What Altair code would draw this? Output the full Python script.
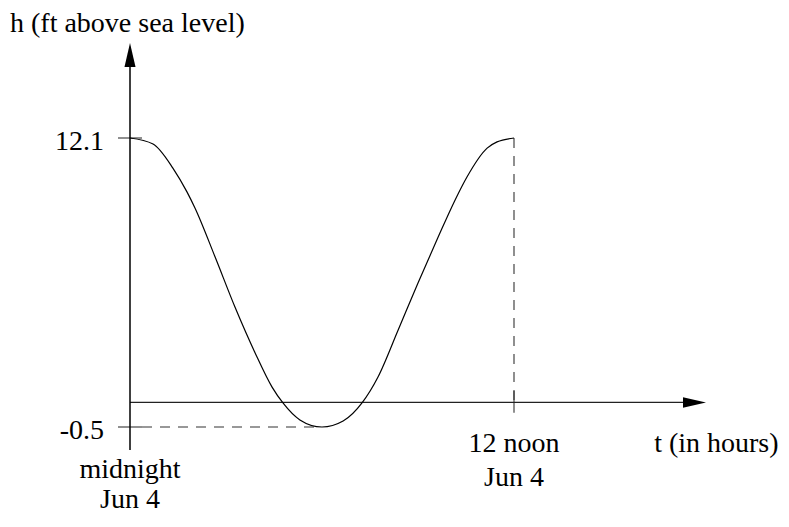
import altair as alt
import pandas as pd

# ---- data ----
t_hours = [0, 0.72, 1.34, 1.78, 2.03, 2.66, 3.28, 3.91, 4.44, 4.78, 5.31, 6.0,
           6.66, 7.25, 7.75, 8.38, 9.0, 9.63, 10.16, 10.53, 11.16, 11.47, 12.0]
h_feet = [12.1, 11.84, 10.79, 9.75, 9.05, 6.91, 4.73, 2.73, 1.24, 0.55, -0.19, -0.5,
          -0.24, 0.55, 1.68, 3.73, 5.78, 7.78, 9.40, 10.40, 11.66, 11.93, 12.1]

h_max = 12.1
h_min = -0.5
t_min_at = 6.0
t_noon = 12.0
y_tick_labels = ["12.1", "-0.5"]
y_tick_values = [12.1, -0.5]
x_label_lines = [["midnight", "Jun 4"], ["12 noon", "Jun 4"]]
x_label_values = [0.0, 12.0]
y_title = "h (ft above sea level)"
x_title = "t (in hours)"

# ---- layout (scale set-up, not data) ----
W, H = 773, 506
PX_PER_HR = 32.0
PX_PER_FT = 289.0 / 12.6
T0_PX, H0_PX = 122.0, 130.0            # svg position of t=0, h=12.1
x_dom = [-T0_PX / PX_PER_HR, (W - T0_PX) / PX_PER_HR]
y_dom = [h_max - (H - H0_PX) / PX_PER_FT, h_max + H0_PX / PX_PER_FT]
AXIS_H = 0.57          # level of the drawn t-axis
V_AX_BOTTOM, V_AX_TOP = -1.5, 15.6
H_AX_END = 17.6
TICK_HALF = 0.375

FONT = "Liberation Serif"
FS = 28

xs = alt.Scale(domain=x_dom, nice=False, zero=False)
ys = alt.Scale(domain=y_dom, nice=False, zero=False)

def X(f="t"):
    return alt.X(f"{f}:Q", scale=xs, axis=None)

def Y(f="h"):
    return alt.Y(f"{f}:Q", scale=ys, axis=None)

curve_df = pd.DataFrame({"t": t_hours, "h": h_feet})
curve = alt.Chart(curve_df).mark_line(
    interpolate="monotone", color="black", strokeWidth=1.2
).encode(x=X(), y=Y(), order="t:Q")

seg = lambda rows: pd.DataFrame(rows, columns=["t", "h", "t2", "h2"])

v_axis = alt.Chart(seg([[0, V_AX_BOTTOM, 0, V_AX_TOP]])).mark_rule(
    color="black", strokeWidth=1.5
).encode(x=X(), y=Y(), x2="t2:Q", y2="h2:Q")

h_axis = alt.Chart(seg([[0, AXIS_H, H_AX_END, AXIS_H]])).mark_rule(
    color="#222", strokeWidth=1.2
).encode(x=X(), y=Y(), x2="t2:Q", y2="h2:Q")

ticks = alt.Chart(seg(
    [[-TICK_HALF, v, TICK_HALF, v] for v in y_tick_values]
    + [[t_noon, AXIS_H - 0.45, t_noon, AXIS_H + 0.5]]
)).mark_rule(color="#333", strokeWidth=1.1).encode(x=X(), y=Y(), x2="t2:Q", y2="h2:Q")

dashed = alt.Chart(seg([
    [t_noon, h_max, t_noon, AXIS_H],
    [TICK_HALF, h_min, t_min_at, h_min],
])).mark_rule(color="#333", strokeWidth=1.1, strokeDash=[10, 8]).encode(
    x=X(), y=Y(), x2="t2:Q", y2="h2:Q")

up_arrow = alt.Chart(pd.DataFrame({"t": [0], "h": [V_AX_TOP + 0.12]})).mark_point(
    shape="M0,-1L0.46,1L-0.46,1Z", size=576, filled=True, fill="black",
    strokeWidth=0, opacity=1
).encode(x=X(), y=Y())

right_arrow = alt.Chart(pd.DataFrame({"t": [H_AX_END + 0.04], "h": [AXIS_H]})).mark_point(
    shape="M1,0L-1,0.46L-1,-0.46Z", size=529, filled=True, fill="black",
    strokeWidth=0, opacity=1
).encode(x=X(), y=Y())

ytick_text = alt.Chart(pd.DataFrame({"t": [0, 0], "h": y_tick_values, "label": y_tick_labels})).mark_text(
    font=FONT, fontSize=FS, align="right", baseline="alphabetic", dx=-26, dy=12, color="black"
).encode(x=X(), y=Y(), text="label:N")

# x labels: two lines each; midnight sits one line lower than noon
rows = []
first_row_h = [-2.72, -1.59]
line_gaps = [1.31, 1.48]
for (lines, tv, h0, gap) in zip(x_label_lines, x_label_values, first_row_h, line_gaps):
    for i, s in enumerate(lines):
        rows.append({"t": tv, "h": h0 - i * gap, "label": s})
xtick_text = alt.Chart(pd.DataFrame(rows)).mark_text(
    font=FONT, fontSize=FS, align="center", baseline="alphabetic", color="black"
).encode(x=X(), y=Y(), text="label:N")

titles = alt.Chart(pd.DataFrame({
    "t": [x_dom[0] + 2 / PX_PER_HR, 16.38],
    "h": [16.72, -1.59],
    "label": [y_title, x_title],
})).mark_text(
    font=FONT, fontSize=FS, align="left", baseline="alphabetic", color="black"
).encode(x=X(), y=Y(), text="label:N")

chart = alt.layer(
    dashed, ticks, h_axis, v_axis, up_arrow, right_arrow, curve,
    ytick_text, xtick_text, titles
).properties(
    width=W, height=H, padding=0,
    autosize=alt.AutoSizeParams(type="none")
).configure_view(stroke=None)

chart.save("out.html", embed_options={"renderer": "svg", "actions": False})
